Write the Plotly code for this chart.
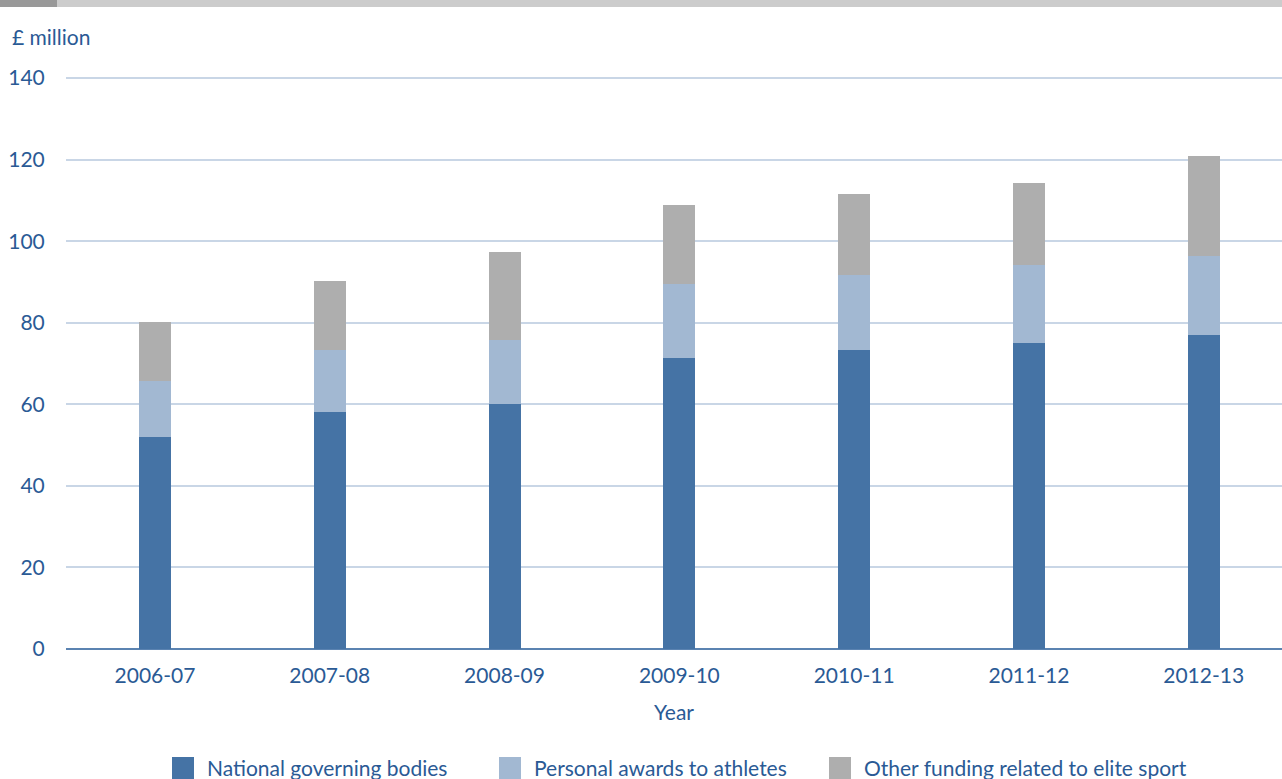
import plotly.graph_objects as go

years = ["2006-07", "2007-08", "2008-09", "2009-10", "2010-11", "2011-12", "2012-13"]
national_governing_bodies = [52.0, 58.1, 60.1, 71.3, 73.3, 75.0, 77.0]
personal_awards = [13.7, 15.2, 15.7, 18.2, 18.4, 19.1, 19.3]
other_funding = [14.5, 16.9, 21.5, 19.3, 19.8, 20.1, 24.6]
y_ticks = [0, 20, 40, 60, 80, 100, 120, 140]

series = [
    ("National governing bodies", national_governing_bodies, "#4573a5"),
    ("Personal awards to athletes", personal_awards, "#a2b8d2"),
    ("Other funding related to elite sport", other_funding, "#aeaeae"),
]

TEXT = "#2a5a95"
FONT = "Lato, 'Open Sans', sans-serif"
FS = 21

L, W, B, H = 66, 1216, 649, 572  # plot area geometry in px


def px(x):
    return (x - L) / W


def py(y):
    return (B - y) / H


fig = go.Figure()
for name, vals, col in series:
    fig.add_bar(x=years, y=vals, name=name, marker=dict(color=col, line_width=0),
                showlegend=False)

fig.update_layout(
    barmode="stack",
    bargap=0.817,
    width=1282, height=779,
    margin=dict(l=66, r=0, t=77, b=130, autoexpand=False),
    paper_bgcolor="white", plot_bgcolor="white",
    font=dict(family=FONT, color=TEXT, size=FS),
    xaxis=dict(type="category", range=[-0.509, 6.448], showgrid=False, ticks="outside",
               ticklen=8, tickcolor="rgba(0,0,0,0)",
               title=dict(text="Year", font=dict(size=FS, color=TEXT), standoff=19),
               showline=False, zeroline=False),
    yaxis=dict(range=[0, 140.25], tickvals=y_ticks, showgrid=True, gridcolor="#c9d6e6",
               gridwidth=2, zeroline=True, zerolinecolor="#5b83b1", zerolinewidth=2,
               ticks="outside", ticklen=16, tickcolor="rgba(0,0,0,0)", showline=False),
    showlegend=False,
)

fig.add_annotation(text="£ million", xref="paper", yref="paper", x=px(10), xanchor="left",
                   y=py(36), yanchor="middle", showarrow=False,
                   font=dict(size=FS, color=TEXT))

# custom legend with large square swatches
legend_x = [172, 499, 829]
for (name, _, col), lx in zip(series, legend_x):
    fig.add_shape(type="rect", xref="paper", yref="paper", x0=px(lx), x1=px(lx + 22),
                  y0=py(779), y1=py(757), fillcolor=col, line_width=0)
    fig.add_annotation(text=name, xref="paper", yref="paper", x=px(lx + 33), xanchor="left",
                       y=py(767), yanchor="middle", showarrow=False,
                       font=dict(size=FS, color=TEXT))

# top decorative band
fig.add_shape(type="rect", xref="paper", yref="paper", x0=px(0), x1=1,
              y0=py(7), y1=py(0), fillcolor="#cccccc", line_width=0, layer="below")
fig.add_shape(type="rect", xref="paper", yref="paper", x0=px(0), x1=px(57),
              y0=py(7), y1=py(0), fillcolor="#999999", line_width=0, layer="below")

fig.write_html("out.html")
